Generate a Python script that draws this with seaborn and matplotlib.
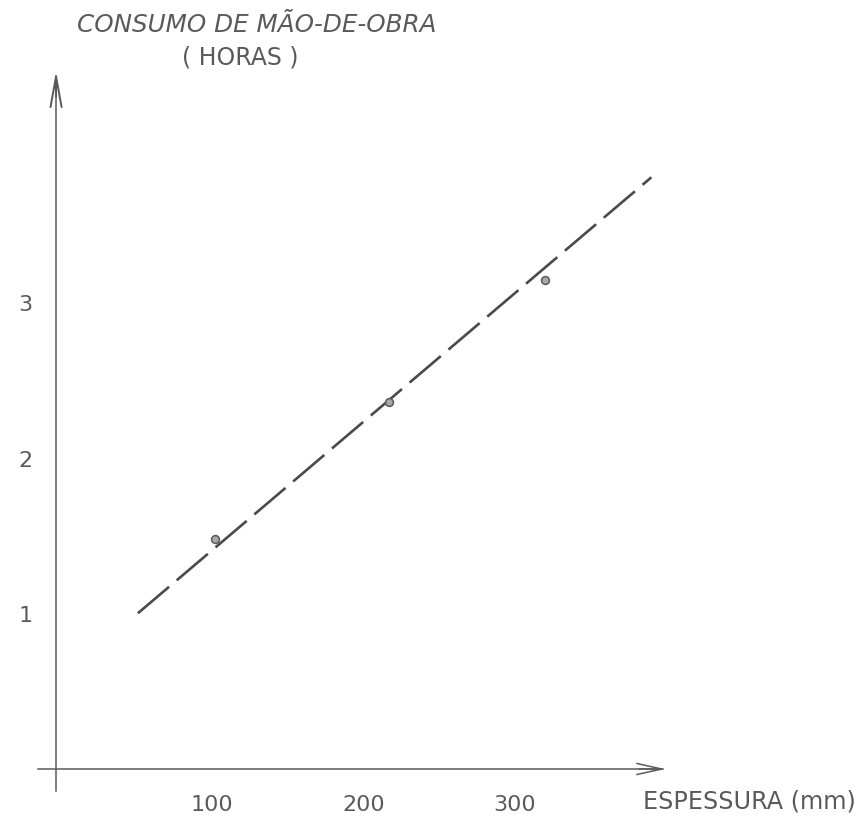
"""
Consumo de mão-de-obra (horas) vs. espessura (mm) - redraw of a hand-drawn chart.
Saves out.png (868 x 820 px).
"""
import matplotlib
matplotlib.use("Agg")
import matplotlib.pyplot as plt
import pandas as pd
import seaborn as sns

# ----------------------------------------------------------------------
# Data
# ----------------------------------------------------------------------
espessura_pts = [102, 217, 320]          # mm
horas_pts = [1.48, 2.36, 3.14]           # measured points

espessura_reta = [51, 390]               # dashed fitted line, ends
horas_reta = [1.00, 3.80]

x_ticks = [100, 200, 300]
y_ticks = [1, 2, 3]

INK = "#5a5a5a"
LINE = "#4a4a4a"

sns.set_style("white")
plt.rcParams["font.family"] = ["DejaVu Sans"]

pts = pd.DataFrame({"espessura": espessura_pts, "horas": horas_pts})
reta = pd.DataFrame({"espessura": espessura_reta, "horas": horas_reta})

fig = plt.figure(figsize=(8.68, 8.2), dpi=100)
ax = fig.add_axes([0, 0, 1, 1])
ax.set_xlim(-40, 533)
ax.set_ylim(-0.321, 4.945)

# dashed line + points
sns.lineplot(data=reta, x="espessura", y="horas", ax=ax, color=LINE,
             lw=1.9, dashes=False, linestyle=(0, (15.5, 3.8)))
sns.scatterplot(data=pts, x="espessura", y="horas", ax=ax, s=32,
                color="#a8a8a8", edgecolor="#5a5a5a", linewidth=1.1, zorder=3)

# --- hand-drawn style axes ---
for side in ("top", "right"):
    ax.spines[side].set_visible(False)
ax.spines["bottom"].set_position(("data", 0))
ax.spines["left"].set_position(("data", -3))
ax.spines["bottom"].set_bounds(-15, 398)
ax.spines["left"].set_bounds(-0.14, 4.45)
for side in ("bottom", "left"):
    ax.spines[side].set_color(INK)
    ax.spines[side].set_linewidth(1.1)

ax.annotate("", xy=(401, 0), xytext=(380, 0),
            arrowprops=dict(arrowstyle="->,head_length=1.8,head_width=0.4",
                            color=INK, lw=1.1, mutation_scale=10))
ax.annotate("", xy=(-3, 4.5), xytext=(-3, 4.3),
            arrowprops=dict(arrowstyle="->,head_length=2.2,head_width=0.4",
                            color=INK, lw=1.4, mutation_scale=10))

ax.set_xticks(x_ticks)
ax.set_xticklabels([str(v) for v in x_ticks])
ax.set_yticks(y_ticks)
ax.set_yticklabels([str(v) for v in y_ticks])
ax.tick_params(axis="x", direction="out", length=7, width=1.1, colors=INK,
               labelsize=16, pad=11)
ax.tick_params(axis="y", direction="out", length=7, width=1.1, colors=INK,
               labelsize=16, pad=10)
ax.set_xlabel("")
ax.set_ylabel("")
ax.grid(False)

fig.text(77 / 868, 1 - 25 / 820, "CONSUMO DE MÃO-DE-OBRA", ha="left",
         va="center", fontsize=17.7, style="italic", color=INK)
fig.text(240 / 868, 1 - 58 / 820, "( HORAS )", ha="center", va="center",
         fontsize=17, color=INK)
fig.text(643 / 868, 1 - 802 / 820, "ESPESSURA (mm)", ha="left",
         va="center", fontsize=17.2, color=INK)

fig.savefig("out.png", dpi=100)
plt.close(fig)
